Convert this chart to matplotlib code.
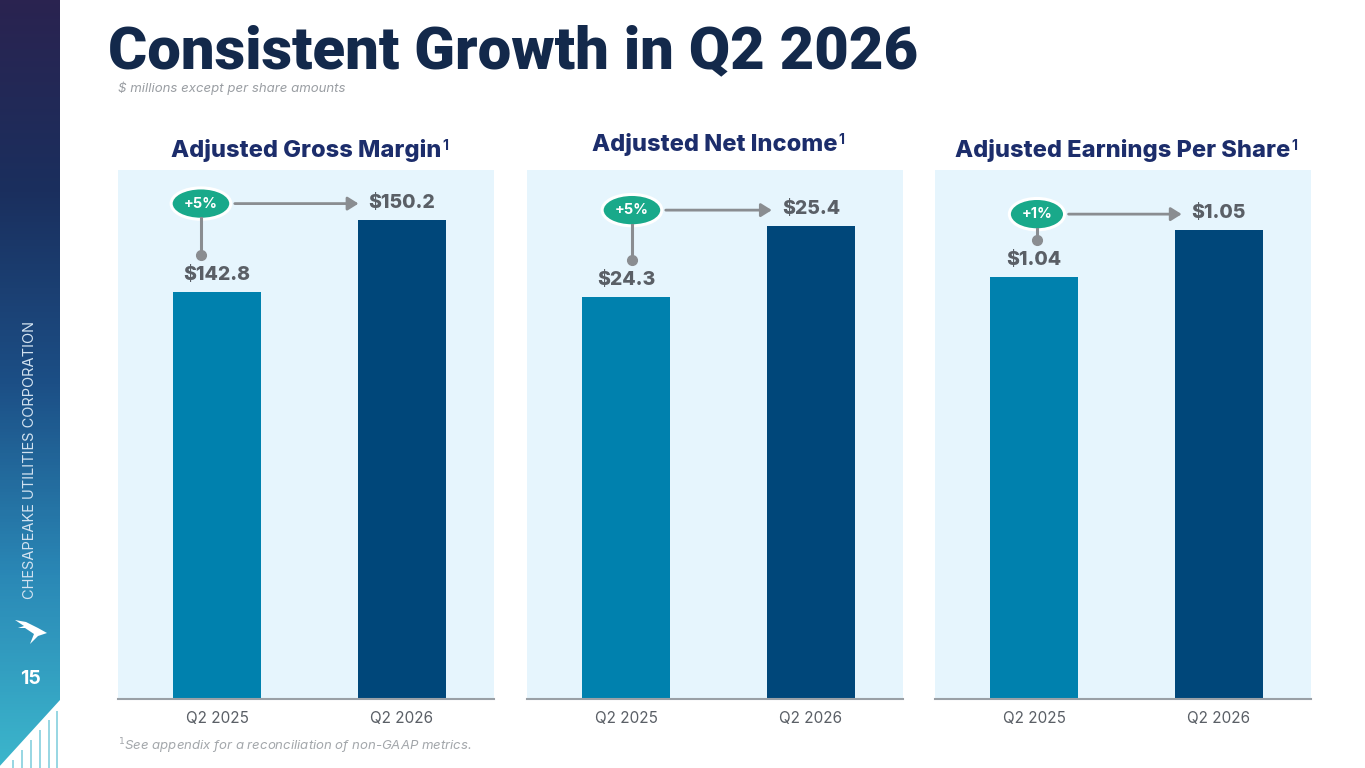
import numpy as np
import matplotlib
matplotlib.use("Agg")
import matplotlib.pyplot as plt
from matplotlib.transforms import ScaledTranslation
from matplotlib.patches import Polygon

# data
periods = ["Q2 2025", "Q2 2026"]
panel_titles = ["Adjusted Gross Margin", "Adjusted Net Income", "Adjusted Earnings Per Share"]
gross_margin = [142.8, 150.2]
net_income = [24.3, 25.4]
eps = [1.04, 1.05]
value_labels = [["$142.8", "$150.2"], ["$24.3", "$25.4"], ["$1.04", "$1.05"]]
growth_labels = ["+5%", "+5%", "+1%"]
y_ranges = [(100.9, 155.3), (18.07, 26.27), (0.9502, 1.0628)]

W, H = 1365, 768
plt.rcParams['font.family'] = ['Inter', 'DejaVu Sans']

fig = plt.figure(figsize=(W / 100, H / 100), dpi=100)
fig.patch.set_facecolor('white')

navy = '#13294b'
title_blue = '#1c2d6b'
gray_txt = '#5a5f66'
bar_cols = ['#0081ae', '#00477a']
panel_bg = '#e6f5fd'
badge_green = '#19a98a'
arrow_gray = '#8a8d91'

# sidebar with gradient
sb = fig.add_axes([0, 0, 60 / W, 1])
grad = np.linspace(0, 1, 256).reshape(-1, 1)
cmap = matplotlib.colors.LinearSegmentedColormap.from_list(
    'sb', ['#2a2350', '#1a2f5e', '#1c4f86', '#2a88b6', '#3cb6cc'])
sb.imshow(grad, aspect='auto', cmap=cmap, extent=[0, 60, H, 0])
sb.set_xlim(0, 60)
sb.set_ylim(H, 0)
sb.axis('off')
sb.add_patch(Polygon([(60, 700), (60, 768), (-2, 768)], closed=True, fc='white', ec='none'))
for lx in [4, 13, 22, 31, 40, 49, 57]:
    top = 700 + (60 - lx) * 68 / 62 + 8
    sb.plot([lx, lx], [top, 768], color='#8fd3e0', lw=1.3, solid_capstyle='butt')
sb.text(30, 460, "CHESAPEAKE UTILITIES CORPORATION", rotation=90, ha='center', va='center',
        color='#d2e2f0', fontsize=10.5)
sb.text(30, 679, "15", ha='center', va='center', color='white', fontsize=14, fontweight='bold')
sb.add_patch(Polygon([(15, 620), (26, 622), (38, 628), (47, 633), (38, 636), (30, 644),
                      (34, 634), (25, 628), (18, 628), (24, 626)], closed=True, fc='white', ec='none'))

# title
fig.text(108 / W, 1 - 68 / H, "Consistent Growth in Q2 2026", fontsize=43, fontweight='black',
         color=navy, va='baseline', family=['Roboto', 'DejaVu Sans'])
fig.text(118 / W, 1 - 88 / H, "$ millions except per share amounts", fontsize=9.5,
         style='italic', color='#9a9ea3', va='center')
fig.text(118 / W, 1 - 746 / H, "$^1$See appendix for a reconciliation of non-GAAP metrics.",
         fontsize=9.5, style='italic', color='#a3a7ab', va='center')

panel_lefts = [118, 527, 935]
title_ys = [150, 144, 150]
badge_dx = [-16, 6, 3]
series = [gross_margin, net_income, eps]
renderer = fig.canvas.get_renderer()


def px(dx, dy):
    return ScaledTranslation(dx / 100, dy / 100, fig.dpi_scale_trans)


for i, vals in enumerate(series):
    left = panel_lefts[i]
    ax = fig.add_axes([left / W, 69 / H, 376 / W, 529 / H])
    ax.set_facecolor(panel_bg)
    x = np.arange(len(periods))
    ax.bar(x, vals, width=0.48, color=bar_cols, zorder=2)
    ax.set_xlim(-0.535, 1.498)
    ax.set_ylim(*y_ranges[i])
    for s in ['top', 'left', 'right']:
        ax.spines[s].set_visible(False)
    ax.spines['bottom'].set_color('#9aa0a6')
    ax.spines['bottom'].set_linewidth(1.5)
    ax.set_yticks([])
    ax.set_xticks(x)
    ax.set_xticklabels(periods, fontsize=11, color=gray_txt)
    ax.tick_params(axis='x', length=0, pad=9)

    # value labels
    lbls = []
    for xi, v, t in zip(x, vals, value_labels[i]):
        lbls.append(ax.text(xi, v, t, ha='center', va='center', fontsize=14, fontweight='heavy',
                            color=gray_txt, transform=ax.transData + px(0, 17), zorder=3))

    # badge
    btr = ax.transData + px(badge_dx[i], 16)
    badge = ax.text(0, vals[1], growth_labels[i], ha='center', va='center', fontsize=10.5,
                    fontweight='bold', color='white', transform=btr, zorder=5,
                    bbox=dict(boxstyle='ellipse,pad=0.28', fc=badge_green,
                              ec='white', lw=2.2))
    fig.canvas.draw()
    bb = badge.get_bbox_patch().get_window_extent(renderer)
    lb = lbls[1].get_window_extent(renderer)
    inv = fig.transFigure.inverted()
    ymid = (bb.y0 + bb.y1) / 2
    p0 = inv.transform((bb.x1 + 4, ymid))
    p1 = inv.transform((lb.x0 - 10, ymid))
    fig.add_artist(matplotlib.patches.FancyArrowPatch(
        p0, p1, transform=fig.transFigure, arrowstyle='-|>,head_length=4,head_width=2.5',
        color=arrow_gray, lw=2.0, mutation_scale=1.6, shrinkA=0, shrinkB=0))
    # connector down to dot
    bx = (bb.x0 + bb.x1) / 2
    dot_y = ax.transData.transform((0, vals[0]))[1] + 37
    q0 = inv.transform((bx, bb.y0 + 1))
    q1 = inv.transform((bx, dot_y))
    fig.add_artist(matplotlib.lines.Line2D([q0[0], q1[0]], [q0[1], q1[1]], transform=fig.transFigure,
                                           color=arrow_gray, lw=2.2))
    fig.add_artist(matplotlib.lines.Line2D([q1[0]], [q1[1]], transform=fig.transFigure,
                                           marker='o', ms=7, color=arrow_gray))

    # panel title with superscript
    cx = (left + 188) / W
    tt = fig.text(cx, 1 - title_ys[i] / H, panel_titles[i], ha='center', va='center',
                  fontsize=17, fontweight='heavy', color=title_blue)
    tb = tt.get_window_extent(renderer)
    sp = inv.transform((tb.x1 + 1, tb.y1 - 7))
    fig.text(sp[0], sp[1], "1", ha='left', va='center', fontsize=10, fontweight='bold',
             color=title_blue)

fig.savefig("out.png", dpi=100, facecolor='white')
